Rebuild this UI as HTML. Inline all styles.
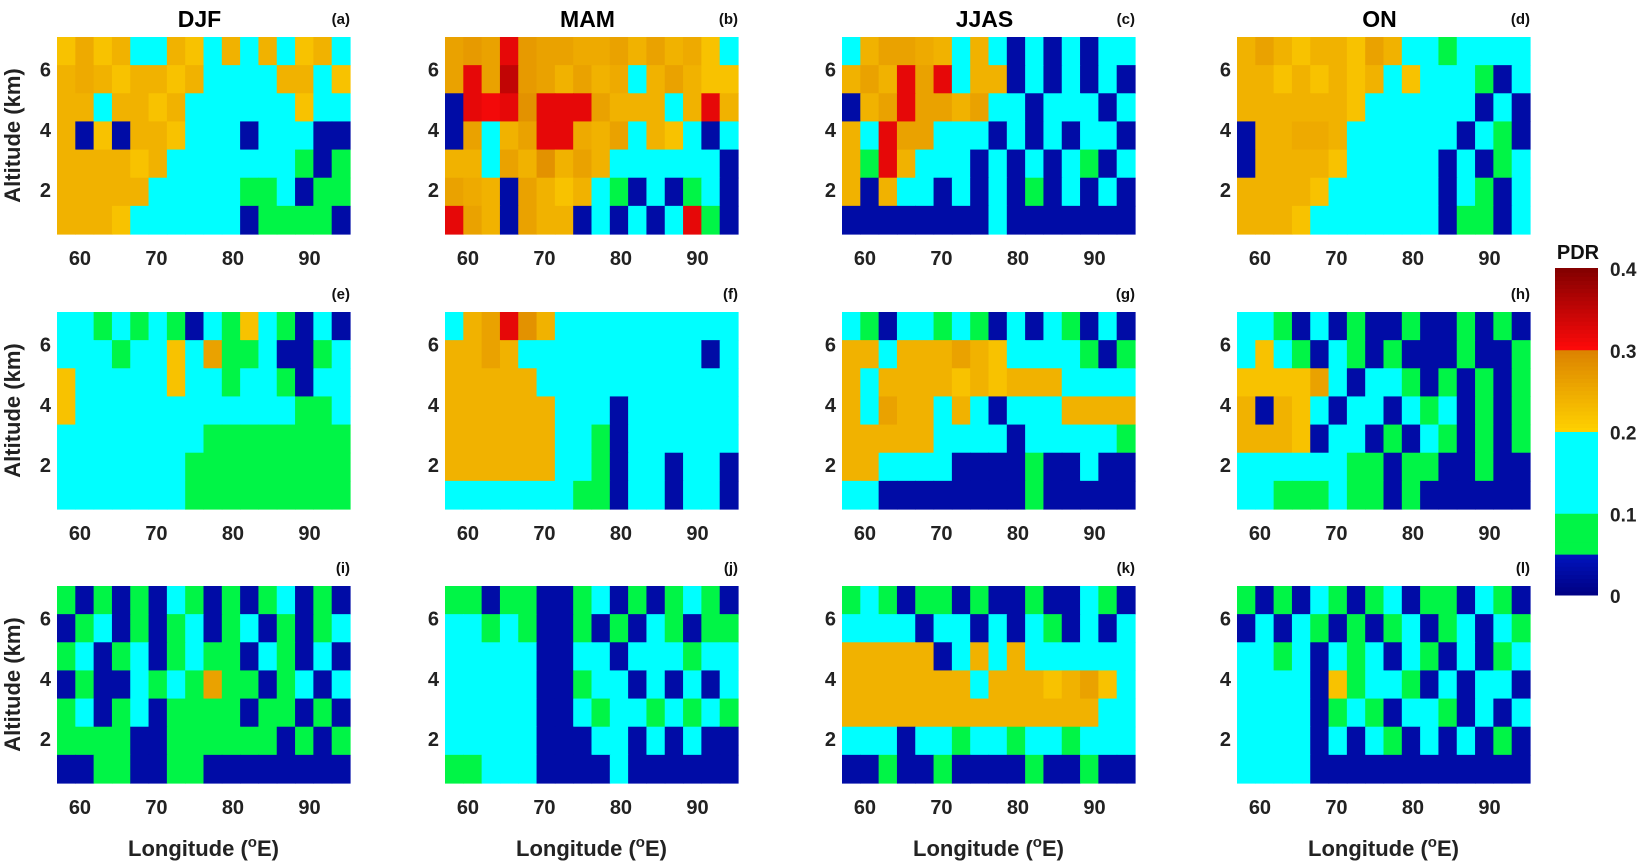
<!DOCTYPE html>
<html><head><meta charset="utf-8"><style>
body{margin:0;background:#fff;}
svg{display:block;font-family:"Liberation Sans",Arial,sans-serif;font-weight:bold;}
</style></head><body>
<svg id="fig" width="1640" height="864" viewBox="0 0 1640 864" xmlns="http://www.w3.org/2000/svg"></svg>
<script>
const seasons=["DJF","MAM","JJAS","ON"];
const letters=["a","b","c","d","e","f","g","h","i","j","k","l"];
const lonTicks=[60,70,80,90];
const altTicks=[2,4,6];
const cbTicks=[0,0.1,0.2,0.3,0.4];
// PDR values in units of 0.01, 7 altitude rows (top->bottom) x 16 longitude columns
const pA=[[22,25,22,24,14,12,24,22,14,24,12,24,14,22,24,14],[24,25,24,22,24,24,22,24,12,12,14,12,24,24,12,22],[24,24,12,24,24,22,24,14,12,12,12,12,14,22,12,12],[24,3,22,3,24,24,22,12,12,12,3,12,12,12,3,3],[24,24,24,24,22,24,12,12,12,12,12,12,12,8,3,8],[24,24,24,24,24,12,12,12,12,12,8,8,12,3,8,8],[24,24,24,22,12,12,12,12,12,12,3,7,7,7,8,3]];
const pB=[[26,27,26,32,27,26,26,25,25,26,24,26,24,25,22,14],[26,32,26,35,27,26,24,26,24,25,12,24,26,24,22,22],[3,32,31,32,28,32,32,32,26,24,24,24,12,24,32,24],[3,26,12,24,26,32,32,25,24,26,12,24,22,12,3,12],[24,24,12,26,24,28,24,26,24,12,12,12,12,12,12,3],[26,25,24,3,26,24,22,24,12,8,3,12,3,8,12,3],[32,26,24,3,26,24,24,3,12,3,12,3,12,32,8,3]];
const pC=[[12,24,26,26,25,24,12,24,12,3,12,3,12,3,12,12],[24,26,24,32,26,32,12,24,24,3,12,3,12,3,12,3],[3,24,26,32,26,26,24,26,12,12,3,12,12,12,3,12],[24,12,32,26,26,12,12,12,3,12,3,12,3,12,12,3],[24,8,32,24,12,12,12,3,12,3,12,3,12,8,3,12],[24,3,24,12,12,3,12,3,12,3,8,3,12,3,12,3],[3,3,3,3,3,3,3,3,12,3,3,3,3,3,3,3]];
const pD=[[24,26,24,22,24,24,22,26,24,12,12,8,12,12,12,12],[24,24,22,24,22,24,22,24,12,22,12,12,12,8,3,12],[24,24,24,24,24,24,22,12,12,12,12,12,12,3,12,3],[3,24,24,25,25,24,12,12,12,12,12,12,3,12,8,3],[3,24,24,24,24,22,12,12,12,12,12,3,12,3,8,12],[24,24,24,24,22,12,12,12,12,12,12,3,12,8,3,12],[24,24,24,22,12,12,12,12,12,12,12,3,8,8,3,12]];
const pE=[[12,12,8,12,8,12,8,3,12,8,22,12,8,3,12,3],[12,12,12,8,12,12,22,12,26,8,8,12,3,3,8,12],[22,12,12,12,12,12,22,12,12,8,12,12,8,3,12,12],[22,12,12,12,12,12,12,12,12,12,12,12,12,8,8,12],[12,12,12,12,12,12,12,12,8,8,8,8,8,8,8,8],[12,12,12,12,12,12,12,8,8,8,8,8,8,8,8,8],[12,12,12,12,12,12,12,8,8,8,8,8,8,8,8,8]];
const pF=[[12,24,26,32,28,24,12,12,12,12,12,12,12,12,12,12],[24,24,26,24,12,12,12,12,12,12,12,12,12,12,3,12],[24,24,24,24,24,12,12,12,12,12,12,12,12,12,12,12],[24,24,24,24,24,24,12,12,12,3,12,12,12,12,12,12],[24,24,24,24,24,24,12,12,8,3,12,12,12,12,12,12],[24,24,24,24,24,24,12,12,8,3,12,12,3,12,12,3],[12,12,12,12,12,12,12,8,8,3,12,12,3,12,12,3]];
const pG=[[12,8,3,12,12,8,12,8,3,12,3,12,8,3,12,3],[24,24,12,24,24,24,26,24,22,12,12,12,12,8,3,8],[24,12,24,24,24,24,22,24,22,24,24,24,12,12,12,12],[24,12,26,24,24,12,24,12,3,12,12,12,24,24,24,24],[24,24,24,24,24,12,12,12,12,3,12,12,12,12,12,8],[24,24,12,12,12,12,3,3,3,3,8,3,3,12,3,3],[12,12,3,3,3,3,3,3,3,3,8,3,3,3,3,3]];
const pH=[[12,12,8,3,12,3,8,3,3,8,3,3,8,3,8,3],[12,22,12,8,3,12,8,3,8,3,3,3,8,3,3,8],[22,22,22,22,26,12,3,12,12,8,3,8,3,8,3,8],[24,3,24,22,12,3,12,12,3,12,8,12,3,8,3,8],[24,24,24,22,3,12,12,3,8,3,12,8,3,8,3,8],[12,12,12,12,12,12,8,8,3,8,8,3,3,8,3,3],[12,12,8,8,8,12,8,8,3,8,3,3,3,3,3,3]];
const pI=[[8,3,8,3,8,3,12,8,3,8,3,8,12,3,8,3],[3,8,12,3,8,3,8,12,3,8,12,3,8,3,8,12],[8,12,3,8,12,3,8,12,8,8,3,12,8,3,12,3],[3,8,3,3,12,8,12,8,26,8,8,3,8,12,3,12],[8,12,3,8,12,3,8,8,8,8,3,8,8,3,8,3],[8,8,8,8,3,3,8,8,8,8,8,8,3,8,3,8],[3,3,8,8,3,3,8,8,3,3,3,3,3,3,3,3]];
const pJ=[[8,8,3,8,8,3,3,8,12,3,8,3,8,12,8,3],[12,12,8,12,8,3,3,8,3,8,3,12,8,3,8,8],[12,12,12,12,12,3,3,12,12,3,12,12,12,8,12,12],[12,12,12,12,12,3,3,8,12,12,3,12,3,12,3,12],[12,12,12,12,12,3,3,12,8,12,12,8,12,8,12,8],[12,12,12,12,12,3,3,3,12,12,3,12,3,12,3,3],[8,8,12,12,12,3,3,3,3,12,3,3,3,3,3,3]];
const pK=[[8,12,8,3,8,8,3,8,3,3,8,3,3,12,8,3],[12,12,12,12,3,12,12,3,12,3,12,8,3,12,3,12],[24,24,24,24,24,3,12,24,12,24,12,12,12,12,12,12],[24,24,24,24,24,24,24,12,24,24,24,22,24,26,22,12],[24,24,24,24,24,24,24,24,24,24,24,24,24,24,12,12],[12,12,12,3,12,12,8,12,12,8,12,12,8,12,12,12],[3,3,8,3,3,8,3,3,3,3,8,3,3,8,3,3]];
const pL=[[8,3,8,3,12,8,3,8,12,3,8,8,3,12,8,3],[3,12,3,12,8,3,8,3,8,12,3,8,12,3,12,8],[12,12,8,12,3,12,8,12,3,12,8,3,12,3,8,12],[12,12,12,12,3,22,8,12,12,8,3,12,3,12,12,3],[12,12,12,12,3,8,12,8,3,12,12,8,3,12,3,12],[12,12,12,12,3,12,3,12,8,3,12,3,12,3,8,3],[12,12,12,12,3,3,3,3,3,3,3,3,3,3,3,3]];
const panels=[pA,pB,pC,pD,pE,pF,pG,pH,pI,pJ,pK,pL];

const NS="http://www.w3.org/2000/svg";
const svg=document.getElementById('fig');
function mk(tag,attrs,parent){const e=document.createElementNS(NS,tag);for(const k in attrs)e.setAttribute(k,attrs[k]);(parent||svg).appendChild(e);return e;}
function lerp(a,b,t){return a.map((v,i)=>Math.round(v+(b[i]-v)*t));}
function color(v){
  v=v/100;
  if(v<0.05){return 'rgb('+lerp([0,0,130],[0,20,190],v/0.05).join(',')+')';}
  if(v<0.1) return 'rgb(0,245,70)';
  if(v<0.2) return 'rgb(0,255,255)';
  if(v<0.3){return 'rgb('+lerp([255,210,0],[220,130,0],(v-0.2)/0.1).join(',')+')';}
  return 'rgb('+lerp([255,10,10],[130,0,0],Math.min(1,(v-0.3)/0.1)).join(',')+')';
}
const colX=[57,445,842,1237], rowY=[37,312,586], PW=293, PH=197;
const lonMin=57, lonMax=95.3, altMin=0.55, altMax=7.07;
for(let p=0;p<12;p++){
  const c=p%4, r=Math.floor(p/4), x0=colX[c], y0=rowY[r];
  const xs=lon=>x0+(lon-lonMin)/(lonMax-lonMin)*PW;
  const ys=a=>y0+(altMax-a)/(altMax-altMin)*PH;
  const g=mk('g',{});
  
  
  const data=panels[p], nr=data.length, nc=data[0].length;
  for(let i=0;i<nr;i++)for(let j=0;j<nc;j++){
    const l0=lonMin+j*(lonMax-lonMin)/nc, l1=lonMin+(j+1)*(lonMax-lonMin)/nc;
    const a0=altMax-i*(altMax-altMin)/nr, a1=altMax-(i+1)*(altMax-altMin)/nr;
    const rc=mk('rect',{x:xs(l0),y:ys(a0),width:xs(l1)-xs(l0)+0.6,height:ys(a1)-ys(a0)+0.6,fill:color(data[i][j])},g);
    
    
  }
  lonTicks.forEach(t=>{const e=mk('text',{x:xs(t),y:y0+PH+31,'font-size':20,'text-anchor':'middle',fill:'#222'},g);e.textContent=t;
    });
  altTicks.forEach(t=>{const e=mk('text',{x:x0-6,y:ys(t)+7,'font-size':20,'text-anchor':'end',fill:'#222'},g);e.textContent=t;
    });
  const lt=mk('text',{x:x0+PW,y:y0-13,'font-size':15,'text-anchor':'end',fill:'#111'},g);lt.textContent='('+letters[p]+')';
  
  if(r===0){const t=mk('text',{x:x0+PW/2-4,y:27,'font-size':23,'text-anchor':'middle',fill:'#000'});t.textContent=seasons[c];
    }
  if(c===0){const t=mk('text',{x:0,y:0,'font-size':22,'text-anchor':'middle',fill:'#222',transform:'translate(20,'+(y0+PH/2)+') rotate(-90)'});t.textContent='Altitude (km)';
    }
  if(r===2){const t=mk('text',{x:x0+PW/2,y:856,'font-size':22,'text-anchor':'middle',fill:'#222'});
    t.innerHTML='Longitude (<tspan font-size="15" dy="-9">o</tspan><tspan dy="9">E)</tspan>';
    }
}
// colorbar
const cb=mk('g',{});


const cbX=1555,cbW=43,cbTop=268,cbBot=595;
const cbY=v=>cbBot-(v/0.4)*(cbBot-cbTop);
for(let k=0;k<80;k++){const v0=k*0.005,v1=(k+1)*0.005;
  const rc=mk('rect',{x:cbX,y:cbY(v1),width:cbW,height:cbY(v0)-cbY(v1)+0.5,fill:color((v0+0.0025)*100)},cb);
  }
cbTicks.forEach(t=>{const e=mk('text',{x:cbX+cbW+12,y:cbY(t)+8,'font-size':19,fill:'#222'},cb);e.textContent=t;
  });
const pl=mk('text',{x:1578,y:259,'font-size':20,'text-anchor':'middle',fill:'#111'},cb);pl.textContent='PDR';

</script>
</body></html>
